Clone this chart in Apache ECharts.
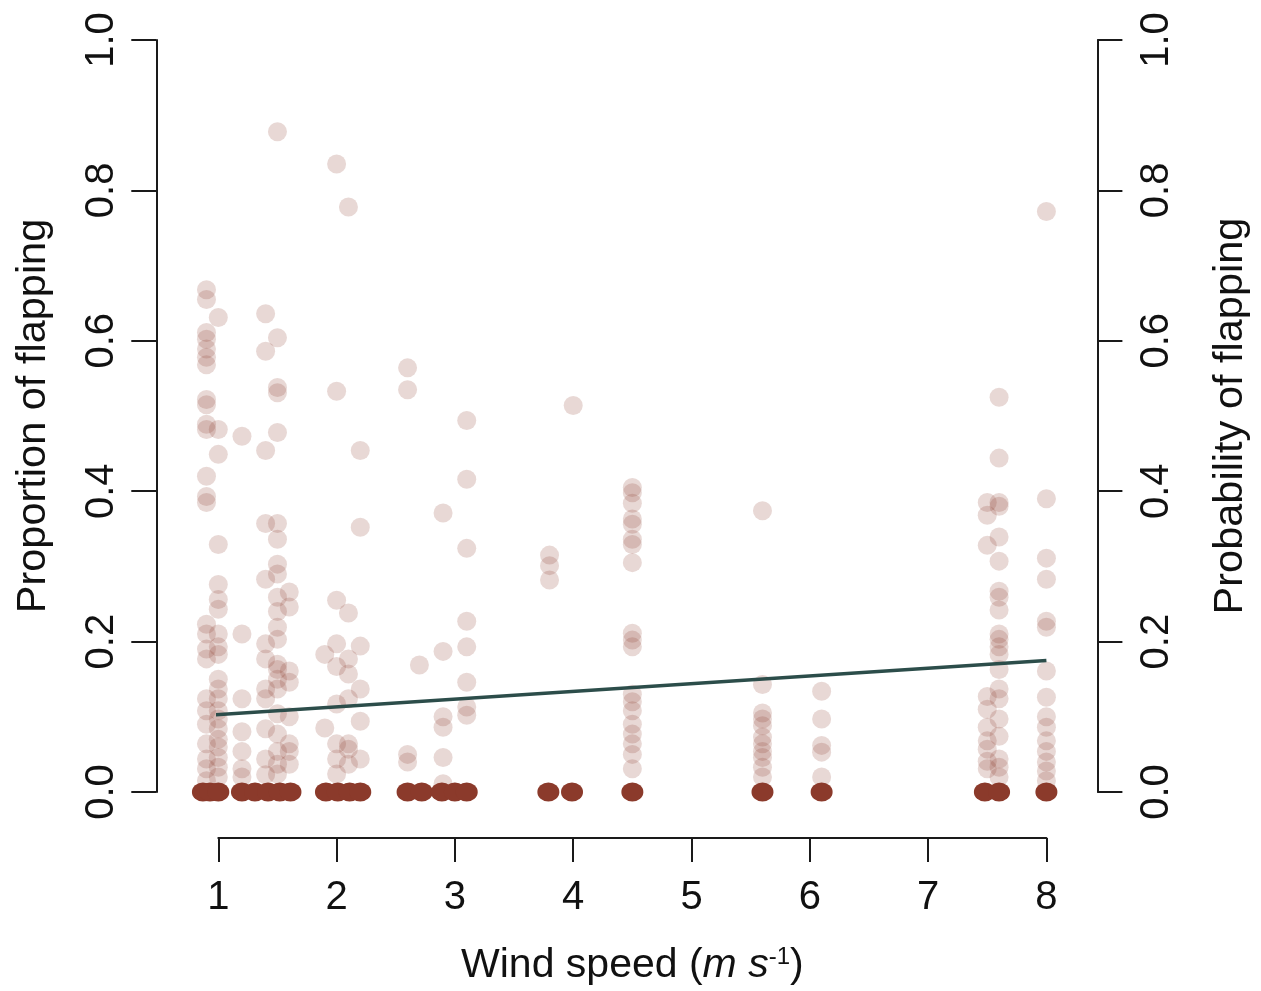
<!DOCTYPE html>
<html>
<head>
<meta charset="utf-8">
<script src="https://cdn.jsdelivr.net/npm/echarts@6/dist/echarts.min.js"></script>
<style>html,body{margin:0;padding:0;background:#fff}#c{width:1261px;height:991px}</style>
</head>
<body>
<div id="c"></div>
<script>
// Wind speed columns (m/s) and the proportion of flapping for each non-zero observation
var columnWind = [0.9, 1.0, 1.2, 1.4, 1.5, 1.6, 1.9, 2.0, 2.1, 2.2, 2.6, 2.7, 2.9, 3.1, 3.8, 4.0, 4.5, 5.6, 6.1, 7.5, 7.6, 8.0];
var columnProportion = [
  [0.668,0.655,0.611,0.602,0.589,0.578,0.568,0.522,0.515,0.489,0.482,0.42,0.393,0.385,0.223,0.21,0.19,0.177,0.124,0.108,0.09,0.064,0.044,0.031,0.015],
  [0.631,0.482,0.449,0.329,0.276,0.256,0.243,0.21,0.193,0.183,0.15,0.137,0.124,0.108,0.097,0.084,0.07,0.06,0.046,0.033,0.02],
  [0.473,0.21,0.124,0.08,0.054,0.031,0.02],
  [0.636,0.586,0.454,0.357,0.283,0.197,0.177,0.137,0.124,0.084,0.044,0.023],
  [0.878,0.604,0.538,0.531,0.478,0.357,0.336,0.303,0.29,0.259,0.24,0.219,0.203,0.17,0.163,0.15,0.137,0.104,0.077,0.054,0.037,0.024],
  [0.266,0.246,0.161,0.146,0.1,0.064,0.054,0.037],
  [0.183,0.085],
  [0.835,0.533,0.255,0.197,0.167,0.117,0.064,0.044,0.024],
  [0.778,0.238,0.177,0.157,0.124,0.064,0.057,0.037],
  [0.454,0.352,0.194,0.137,0.094,0.044],
  [0.564,0.535,0.05,0.04],
  [0.169],
  [0.371,0.187,0.1,0.086,0.046,0.011],
  [0.494,0.416,0.324,0.227,0.193,0.146,0.113,0.102],
  [0.315,0.301,0.282],
  [0.514],
  [0.405,0.398,0.384,0.363,0.356,0.336,0.329,0.305,0.211,0.202,0.193,0.13,0.12,0.108,0.09,0.077,0.064,0.05,0.031],
  [0.374,0.143,0.105,0.097,0.088,0.073,0.064,0.054,0.046,0.033,0.02],
  [0.134,0.097,0.062,0.053,0.02],
  [0.385,0.368,0.328,0.127,0.11,0.086,0.068,0.057,0.041,0.031],
  [0.525,0.444,0.385,0.38,0.339,0.307,0.267,0.259,0.242,0.21,0.203,0.193,0.183,0.163,0.137,0.124,0.097,0.074,0.044,0.033,0.02],
  [0.772,0.39,0.311,0.283,0.227,0.219,0.161,0.126,0.1,0.086,0.068,0.054,0.04,0.028,0.015]
];
// Wind speeds of observations with zero flapping
var zeroWind = [0.87,0.93,1.0,1.2,1.31,1.42,1.52,1.61,1.91,2.01,2.11,2.2,2.6,2.72,2.89,3.0,3.1,3.79,3.99,4.5,5.6,6.1,7.48,7.6,8.0];
// Fitted probability of flapping
var trendWind = [0.9, 8.0];
var trendProb = [0.102, 0.175];
var xTicks = [1,2,3,4,5,6,7,8];
var yTicks = [0,0.2,0.4,0.6,0.8,1.0];

var pts = [];
columnWind.forEach(function(w,i){ columnProportion[i].forEach(function(p){ pts.push([w,p]); }); });
var zeros = zeroWind.map(function(w){ return [w,0]; });
var trend = trendWind.map(function(w,i){ return [w,trendProb[i]]; });

var FONT = 'Liberation Sans, Arial, sans-serif';
var axisCol = '#1a1a1a';
var chart = echarts.init(document.getElementById('c'), null, {renderer:'canvas'});
var yAx = function(pos, offset, margin, name, gap){
  return {
    type:'value', position:pos, min:0, max:1, interval:0.2, offset:offset,
    axisLine:{show:true, onZero:false, lineStyle:{color:axisCol, width:2}},
    axisTick:{show:true, length:25, lineStyle:{color:axisCol, width:2}},
    splitLine:{show:false},
    axisLabel:{rotate:90, margin:margin, fontSize:40, color:'#111', fontFamily:FONT,
      formatter:function(v){ return v.toFixed(1); }},
    name:name, nameLocation:'middle', nameRotate:90, nameGap:gap,
    nameTextStyle:{fontSize:41.5, color:'#111', fontFamily:FONT}
  };
};
chart.setOption({
  animation:false,
  backgroundColor:'#fff',
  grid:{left:218.3, right:1261-1046.4, top:40, bottom:991-793},
  xAxis:{
    type:'value', min:1, max:8, interval:1, offset:46,
    axisLine:{show:true, onZero:false, lineStyle:{color:axisCol, width:2}},
    axisTick:{show:true, length:24, lineStyle:{color:axisCol, width:2}},
    splitLine:{show:false},
    axisLabel:{margin:40, fontSize:40, color:'#111', fontFamily:FONT},
    name:'{n|Wind speed (}{i|m}{n| }{i|s}{sup|-1}{n|)}',
    nameLocation:'middle', nameGap:107,
    nameTextStyle:{fontSize:41, color:'#111', fontFamily:FONT,
      rich:{
        n:{fontSize:41, fontFamily:FONT, color:'#111'},
        i:{fontSize:41, fontFamily:FONT, fontStyle:'italic', color:'#111'},
        sup:{fontSize:24, fontFamily:FONT, color:'#111', verticalAlign:'top', padding:[0,0,17,0]}
      }}
  },
  yAxis:[
    yAx('left', 62, 34, 'Proportion of flapping', 102),
    yAx('right', 51, 40, 'Probability of flapping', 112)
  ],
  series:[
    {type:'scatter', data:pts, symbolSize:19, clip:false, silent:true,
      itemStyle:{color:'rgba(142,59,46,0.2)', borderWidth:0, opacity:1}},
    {type:'scatter', data:zeros, symbolSize:[22,19], clip:false, silent:true,
      itemStyle:{color:'#8b3a2b', borderWidth:0, opacity:1}},
    {type:'line', data:trend, showSymbol:false, symbol:'none', clip:false, silent:true,
      lineStyle:{color:'#2c4d4a', width:3.5}}
  ]
});
</script>
</body>
</html>
